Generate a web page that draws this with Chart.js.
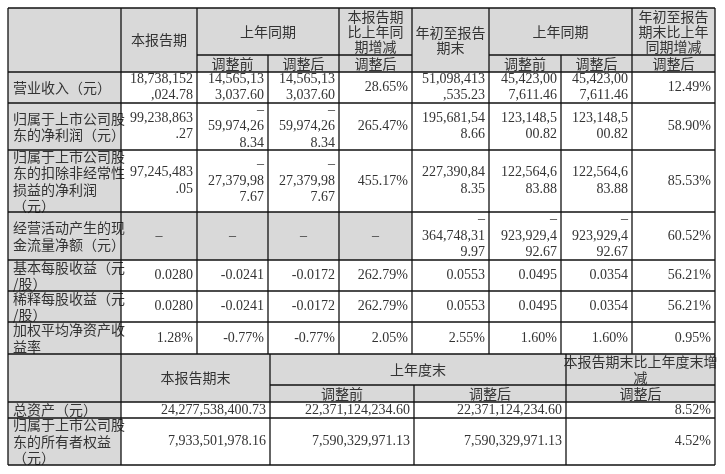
<!DOCTYPE html>
<html><head><meta charset="utf-8">
<script src="https://cdn.jsdelivr.net/npm/chart.js@4/dist/chart.umd.min.js"></script>
<style>html,body{margin:0;padding:0;background:#fff}#w{width:725px;height:474px}</style>
</head><body><div id="w"><canvas id="c"></canvas></div>
<script>
// ---- data ----
const rowLabels = ["营业收入（元）","归属于上市公司股\n东的净利润（元）","归属于上市公司股\n东的扣除非经常性\n损益的净利润\n（元）","经营活动产生的现\n金流量净额（元）","基本每股收益（元\n/股）","稀释每股收益（元\n/股）","加权平均净资产收\n益率"];
const currentPeriod = ["18,738,152\n,024.78","99,238,863\n.27","97,245,483\n.05","–","0.0280","0.0280","1.28%"];
const lastYearBefore = ["14,565,13\n3,037.60","–\n59,974,26\n8.34","–\n27,379,98\n7.67","–","-0.0241","-0.0241","-0.77%"];
const lastYearAfter = ["14,565,13\n3,037.60","–\n59,974,26\n8.34","–\n27,379,98\n7.67","–","-0.0172","-0.0172","-0.77%"];
const periodChange = ["28.65%","265.47%","455.17%","–","262.79%","262.79%","2.05%"];
const ytd = ["51,098,413\n,535.23","195,681,54\n8.66","227,390,84\n8.35","–\n364,748,31\n9.97","0.0553","0.0553","2.55%"];
const ytdLastBefore = ["45,423,00\n7,611.46","123,148,5\n00.82","122,564,6\n83.88","–\n923,929,4\n92.67","0.0495","0.0495","1.60%"];
const ytdLastAfter = ["45,423,00\n7,611.46","123,148,5\n00.82","122,564,6\n83.88","–\n923,929,4\n92.67","0.0354","0.0354","1.60%"];
const ytdChange = ["12.49%","58.90%","85.53%","60.52%","56.21%","56.21%","0.95%"];
const bsLabels = ["总资产（元）","归属于上市公司股\n东的所有者权益\n（元）"];
const bsCurrent = ["24,277,538,400.73","7,933,501,978.16"];
const bsLastBefore = ["22,371,124,234.60","7,590,329,971.13"];
const bsLastAfter = ["22,371,124,234.60","7,590,329,971.13"];
const bsChange = ["8.52%","4.52%"];

// ---- layout (grid lines in value units) ----
const X1 = [8,121,197,268,339,412,489,561,632,715];
const Y1 = [8,55,72,103,150,212,260,291,322,354];
const X2 = [8,121,270,414,566,715];
const Y2 = [354,385,402,418,465];
const GREY = "#d9d9d9";
const FONT = "14px 'Liberation Serif','Noto Sans CJK SC',serif";
const HFONT = "14px 'Noto Sans CJK SC',sans-serif";

const tablePlugin = {
  id:'table',
  afterDraw(chart){
    const ctx = chart.ctx, xs = chart.scales.x, ys = chart.scales.y;
    const px = v=>xs.getPixelForValue(v), py = v=>ys.getPixelForValue(v);
    function fill(x0,y0,x1,y1,c){ctx.fillStyle=c;ctx.fillRect(px(x0),py(y0),px(x1)-px(x0),py(y1)-py(y0));}
    function text(s,x0,y0,x1,y1,align,font,lh){
      const lines=String(s).split("\n"); ctx.font=font||FONT; ctx.fillStyle="#333"; ctx.textBaseline="middle";
      lh=lh||16.5; const cy=(py(y0)+py(y1))/2; const start=cy-(lines.length-1)*lh/2;
      lines.forEach((l,i)=>{let x; if(align==="left"){ctx.textAlign="left";x=px(x0)+5;} else if(align==="center"){ctx.textAlign="center";x=(px(x0)+px(x1))/2;} else {ctx.textAlign="right";x=px(x1)-4;}
        ctx.fillText(l,x,start+i*lh);});
    }
    function line(x0,y0,x1,y1){ctx.beginPath();ctx.moveTo(px(x0),py(y0));ctx.lineTo(px(x1),py(y1));ctx.stroke();}
    // backgrounds
    fill(X1[0],Y1[0],X1[9],Y1[2],GREY);
    fill(X1[0],Y1[2],X1[1],Y1[9],GREY);
    for(let c=1;c<=4;c++) fill(X1[c],Y1[5],X1[c+1],Y1[6],GREY);
    fill(X2[0],Y2[0],X2[5],Y2[2],GREY);
    fill(X2[0],Y2[2],X2[1],Y2[4],GREY);
    // headers table 1
    const hl=15;
    text("本报告期",X1[1],Y1[0],X1[2],Y1[2],"center",HFONT);
    text("上年同期",X1[2],Y1[0],X1[4],Y1[1],"center",HFONT);
    text("调整前",X1[2],Y1[1],X1[3],Y1[2],"center",HFONT);
    text("调整后",X1[3],Y1[1],X1[4],Y1[2],"center",HFONT);
    text("本报告期\n比上年同\n期增减",X1[4],Y1[0],X1[5],Y1[1],"center",HFONT,hl);
    text("调整后",X1[4],Y1[1],X1[5],Y1[2],"center",HFONT);
    text("年初至报告\n期末",X1[5],Y1[0],X1[6],Y1[2],"center",HFONT,hl);
    text("上年同期",X1[6],Y1[0],X1[8],Y1[1],"center",HFONT);
    text("调整前",X1[6],Y1[1],X1[7],Y1[2],"center",HFONT);
    text("调整后",X1[7],Y1[1],X1[8],Y1[2],"center",HFONT);
    text("年初至报告\n期末比上年\n同期增减",X1[8],Y1[0],X1[9],Y1[1],"center",HFONT,hl);
    text("调整后",X1[8],Y1[1],X1[9],Y1[2],"center",HFONT);
    const cols=[currentPeriod,lastYearBefore,lastYearAfter,periodChange,ytd,ytdLastBefore,ytdLastAfter,ytdChange];
    rowLabels.forEach((lab,r)=>{
      const y0=Y1[r+2],y1=Y1[r+3];
      text(lab,X1[0],y0,X1[1],y1,"left",HFONT,16.5);
      cols.forEach((arr,c)=>text(arr[r],X1[c+1],y0,X1[c+2],y1,arr[r]==="–"&&c<4?"center":"right"));
    });
    // headers table 2
    text("本报告期末",X2[1],Y2[0],X2[2],Y2[2],"center",HFONT);
    text("上年度末",X2[2],Y2[0],X2[4],Y2[1],"center",HFONT);
    text("调整前",X2[2],Y2[1],X2[3],Y2[2],"center",HFONT);
    text("调整后",X2[3],Y2[1],X2[4],Y2[2],"center",HFONT);
    text("本报告期末比上年度末增\n减",X2[4],Y2[0],X2[5],Y2[1],"center",HFONT,16);
    text("调整后",X2[4],Y2[1],X2[5],Y2[2],"center",HFONT);
    const cols2=[bsCurrent,bsLastBefore,bsLastAfter,bsChange];
    bsLabels.forEach((lab,r)=>{
      const y0=Y2[r+2],y1=Y2[r+3];
      text(lab,X2[0],y0,X2[1],y1,"left",HFONT,16.5);
      cols2.forEach((arr,c)=>text(arr[r],X2[c+1],y0,X2[c+2],y1,"right"));
    });
    // grid lines
    ctx.strokeStyle="#111"; ctx.lineWidth=1.3;
    line(X1[0],Y1[0],X1[9],Y1[0]);
    line(X1[2],Y1[1],X1[5],Y1[1]); line(X1[6],Y1[1],X1[9],Y1[1]);
    for(let i=2;i<Y1.length;i++) line(X1[0],Y1[i],X1[9],Y1[i]);
    X1.forEach((x,i)=>{ if(i===3||i===7) line(x,Y1[1],x,Y1[9]); else line(x,Y1[0],x,Y1[9]); });
    line(X2[2],Y2[1],X2[5],Y2[1]);
    for(let i=2;i<Y2.length;i++) line(X2[0],Y2[i],X2[5],Y2[i]);
    X2.forEach((x,i)=>{ if(i===3) line(x,Y2[1],x,Y2[4]); else line(x,Y2[0],x,Y2[4]); });
  }
};
new Chart(document.getElementById('c'),{
  type:'scatter',
  data:{datasets:[{data:[]}]},
  options:{responsive:true,maintainAspectRatio:false,animation:false,
    layout:{padding:0},
    plugins:{legend:{display:false},tooltip:{enabled:false}},
    scales:{x:{type:'linear',min:0,max:725,display:false},y:{type:'linear',min:0,max:474,reverse:true,display:false}}},
  plugins:[tablePlugin]
});
</script></body></html>
